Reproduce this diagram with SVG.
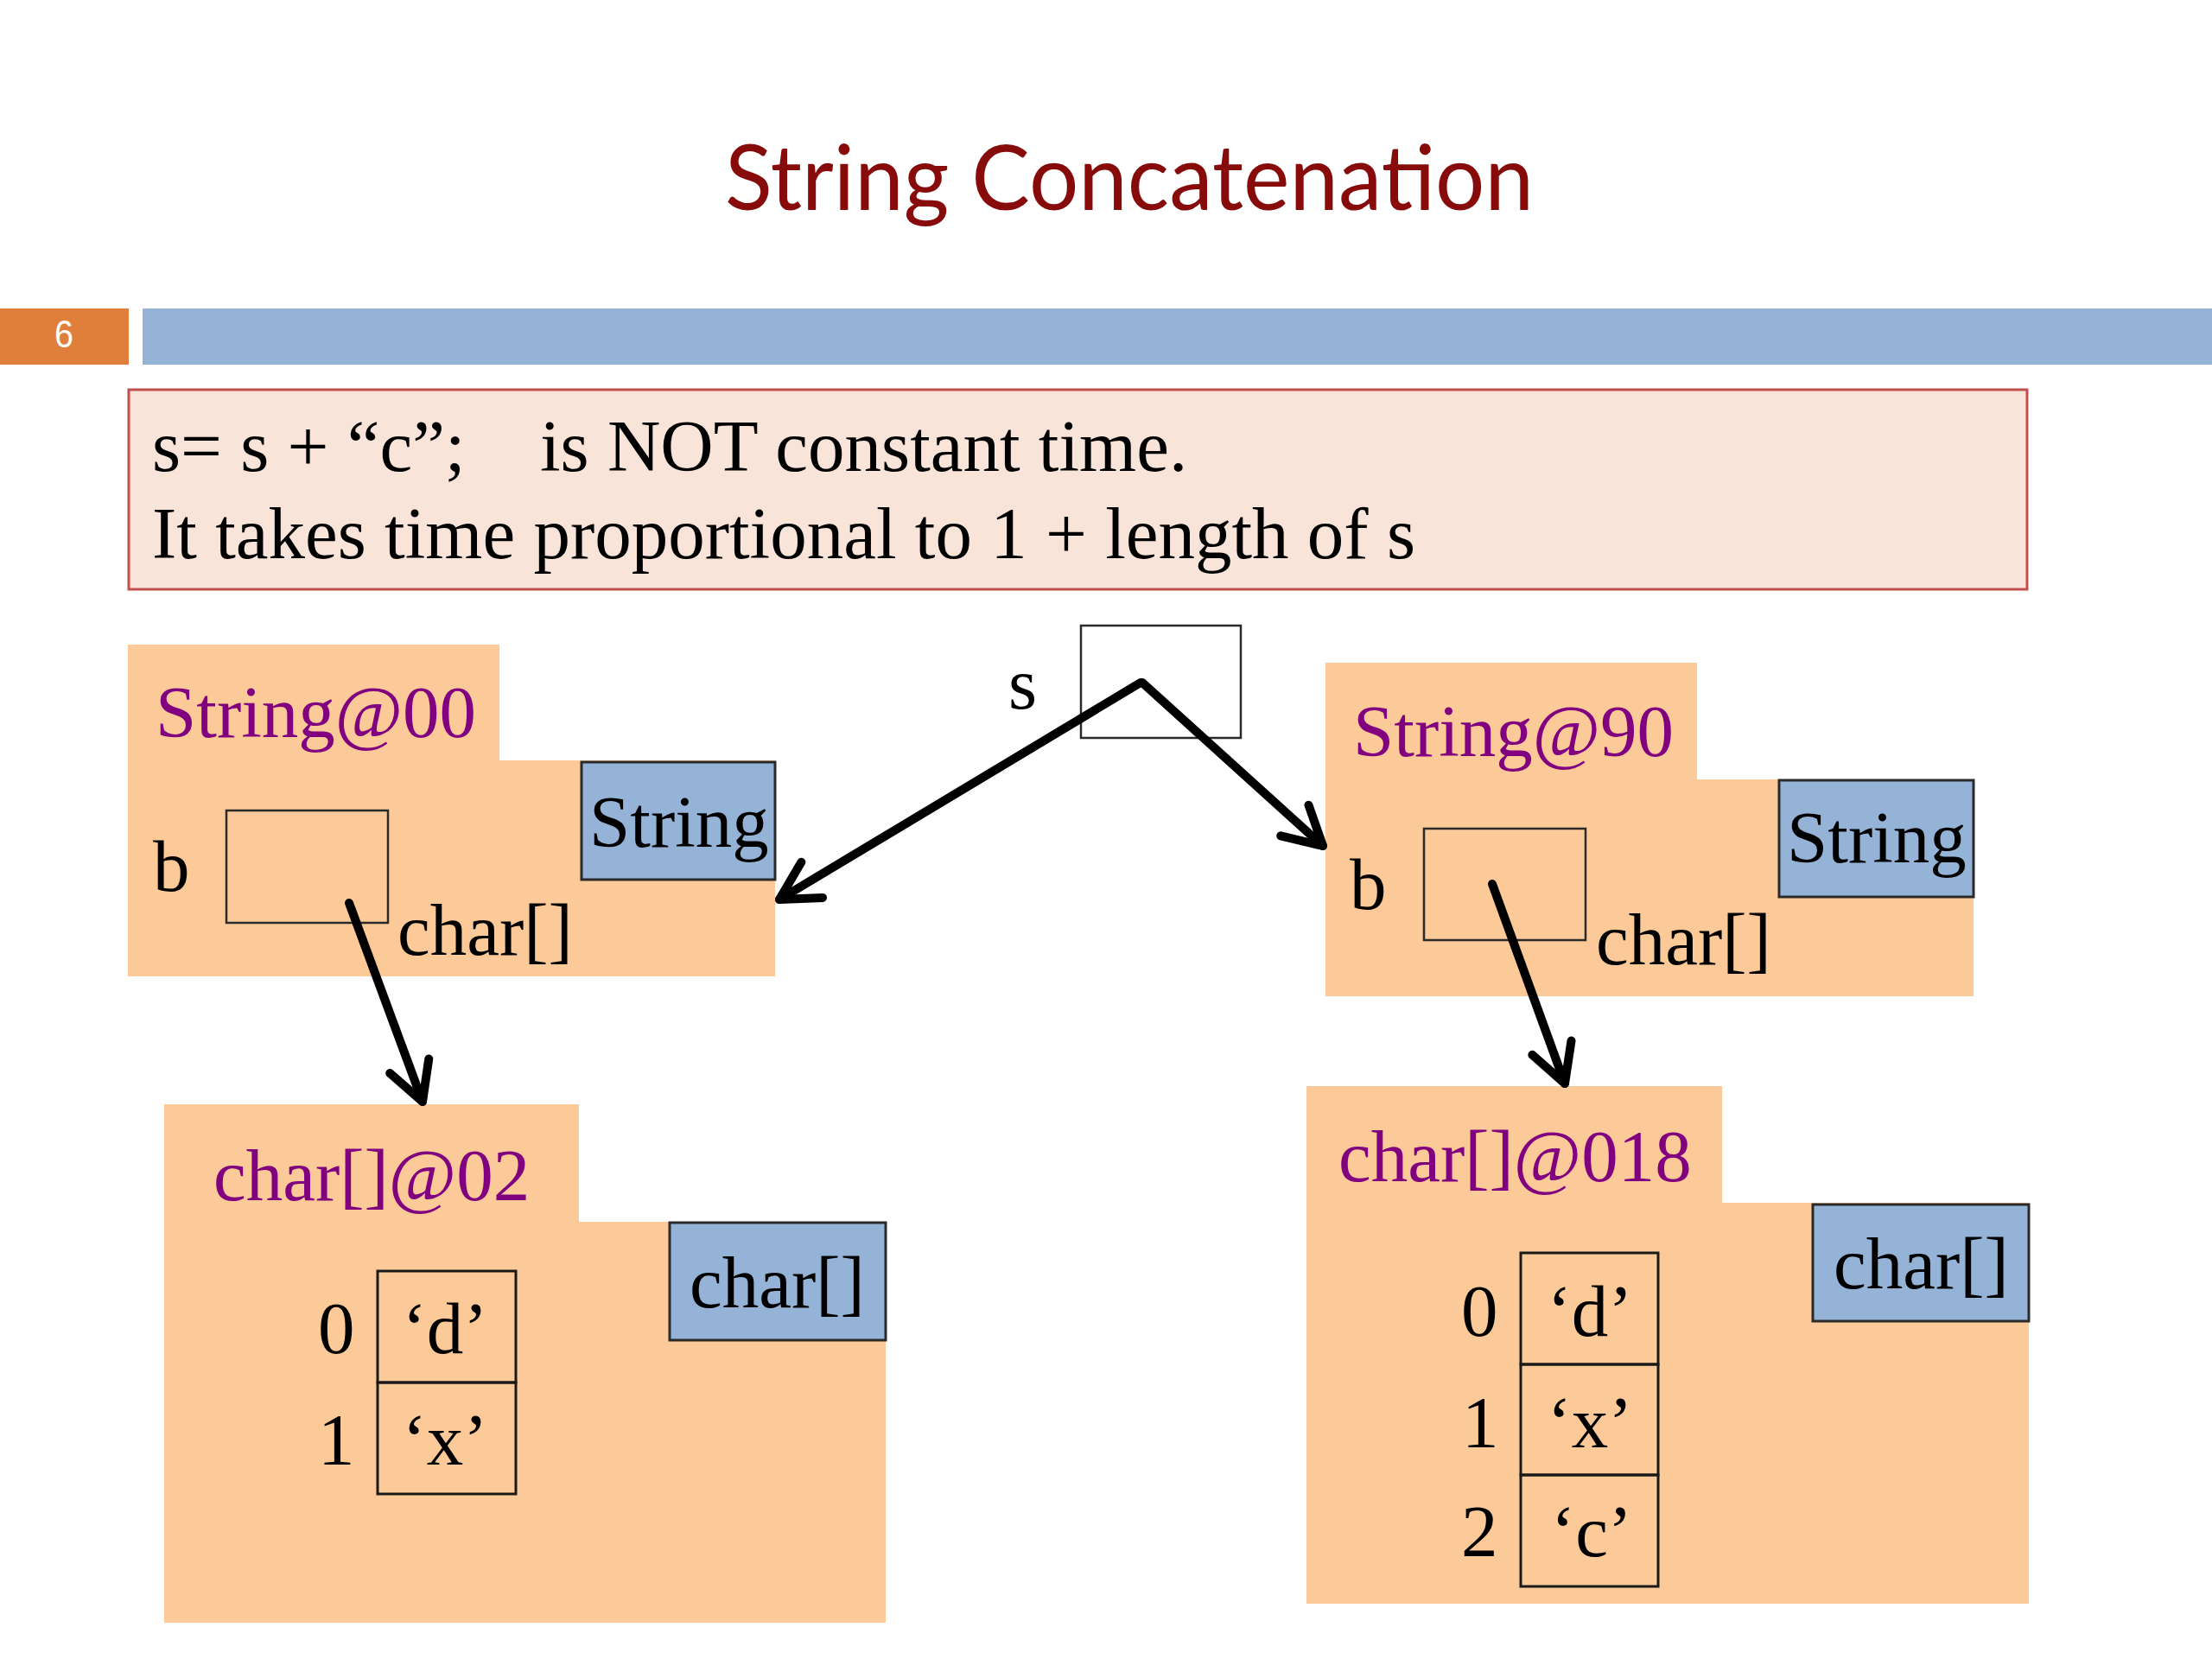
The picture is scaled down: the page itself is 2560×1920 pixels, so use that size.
<svg xmlns="http://www.w3.org/2000/svg" width="2560" height="1920" viewBox="0 0 2560 1920">
<style>
.serif{font-family:"Liberation Serif","Times New Roman",serif;font-size:85px;fill:#000}
.lbl{fill:#800080}
.obj{fill:#FCCA98;stroke:none}
.cls{fill:#95B3D7;stroke:#2a2a2a;stroke-width:3}
.var{fill:none;stroke:#2a2a2a;stroke-width:2.5}
.cell{fill:none;stroke:#1a1a1a;stroke-width:3}
.arrow{fill:none;stroke:#000;stroke-width:10;stroke-linecap:round;marker-end:url(#vhead)}
.mid{text-anchor:middle}
</style>
<defs>
<marker id="vhead" markerUnits="userSpaceOnUse" markerWidth="80" markerHeight="80" viewBox="-60 -40 80 80" refX="0" refY="0" orient="auto">
<path d="M-44 -24 L0 0 L-44 24" fill="none" stroke="#000" stroke-width="10" stroke-linecap="round" stroke-linejoin="round"/>
</marker>
</defs>
<rect x="0" y="0" width="2560" height="1920" fill="#fff"/>
<g id="title">
<text x="839" y="243" font-family="Lato,'Liberation Sans',sans-serif" font-size="104" fill="#870B0B" textLength="936" lengthAdjust="spacingAndGlyphs">String Concatenation</text>
</g>
<g id="header-bar">
<rect x="0" y="357" width="149" height="65" fill="#E07F3C"/>
<rect x="165" y="357" width="2395" height="65" fill="#95B3D7"/>
<text x="74" y="402" font-family="'Liberation Sans',sans-serif" font-size="44" fill="#fff" text-anchor="middle" textLength="22" lengthAdjust="spacingAndGlyphs">6</text>
</g>
<g id="note">
<rect x="149" y="451" width="2197" height="231" fill="#F8E4D8" stroke="#C0504D" stroke-width="3"/>
<text class="serif" x="176" y="545">s= s + “c”;</text>
<text class="serif" x="625" y="545">is NOT constant time.</text>
<text class="serif" x="176" y="646">It takes time proportional to 1 + length of s</text>
</g>
<g id="var-s">
<text class="serif" x="1167" y="820">s</text>
<rect class="var" x="1251" y="724" width="185" height="130" fill="#fff"/>
</g>
<g id="String00">
<path class="obj" d="M148 746 H578 V880 H897 V1130 H148 Z"/>
<text class="serif lbl" x="180" y="853">String@00</text>
<rect class="cls" x="673" y="882" width="224" height="136"/>
<text class="serif" x="682" y="980">String</text>
<text class="serif" x="177" y="1031">b</text>
<rect class="var" x="262" y="938" width="187" height="130"/>
<text class="serif" x="460" y="1105">char[]</text>
</g>
<g id="String90">
<path class="obj" d="M1534 767 H1964 V902 H2284 V1153 H1534 Z"/>
<text class="serif lbl" x="1566" y="875">String@90</text>
<rect class="cls" x="2059" y="903" width="225" height="135"/>
<text class="serif" x="2068" y="998">String</text>
<text class="serif" x="1562" y="1052">b</text>
<rect class="var" x="1648" y="959" width="187" height="129"/>
<text class="serif" x="1847" y="1116">char[]</text>
</g>
<g id="chararr02">
<path class="obj" d="M190 1278 H670 V1414 H1025 V1878 H190 Z"/>
<text class="serif lbl" x="247" y="1389">char[]@02</text>
<rect class="cls" x="775" y="1415" width="250" height="136"/>
<text class="serif" x="798" y="1513">char[]</text>
<rect class="cell" x="437" y="1471" width="160" height="129"/>
<rect class="cell" x="437" y="1600" width="160" height="129"/>
<text class="serif" x="368" y="1566">0</text>
<text class="serif" x="368" y="1695">1</text>
<text class="serif mid" x="515" y="1566">‘d’</text>
<text class="serif mid" x="515" y="1695">‘x’</text>
</g>
<g id="chararr018">
<path class="obj" d="M1512 1257 H1993 V1392 H2348 V1856 H1512 Z"/>
<text class="serif lbl" x="1549" y="1367">char[]@018</text>
<rect class="cls" x="2098" y="1394" width="250" height="135"/>
<text class="serif" x="2122" y="1491">char[]</text>
<rect class="cell" x="1760" y="1450" width="159" height="129"/>
<rect class="cell" x="1760" y="1579" width="159" height="128"/>
<rect class="cell" x="1760" y="1707" width="159" height="129"/>
<text class="serif" x="1691" y="1546">0</text>
<text class="serif" x="1692" y="1675">1</text>
<text class="serif" x="1691" y="1801">2</text>
<text class="serif mid" x="1840" y="1546">‘d’</text>
<text class="serif mid" x="1840" y="1675">‘x’</text>
<text class="serif mid" x="1842" y="1801">‘c’</text>
</g>
<g id="connectors">
<line class="arrow" x1="1320" y1="790" x2="902" y2="1041"/>
<line class="arrow" x1="1322" y1="790" x2="1531" y2="979"/>
<line class="arrow" x1="404" y1="1045" x2="489" y2="1275"/>
<line class="arrow" x1="1727" y1="1023" x2="1811" y2="1254"/>
</g>
</svg>
